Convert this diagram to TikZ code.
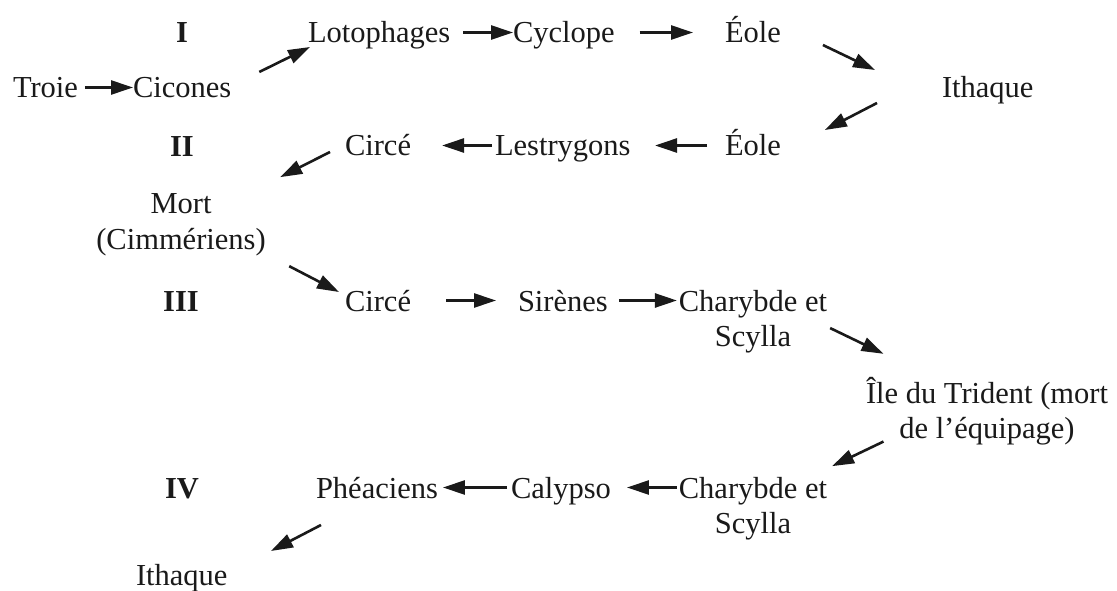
\documentclass[tikz,border=0pt]{standalone}
\usepackage{fontspec}
\setmainfont{Liberation Serif}
\usetikzlibrary{arrows.meta}
\definecolor{ink}{HTML}{1A1A1A}
\begin{document}
\begin{tikzpicture}[x=1pt,y=-1pt,
  every node/.style={inner sep=0pt,outer sep=0pt,text=ink,font=\fontsize{30.5}{35.5}\selectfont},
  place/.style={text height=21pt,text depth=0pt},
  numeral/.style={place,anchor=base,font=\fontsize{30.5}{35.5}\selectfont\bfseries},
  multi/.style={anchor=base},
  arr/.style={draw=ink,line width=2.6pt,-{Triangle[length=22pt,width=14pt]}}]
\useasboundingbox[fill=white] (0,0) rectangle (1117,591);
% row I
\node[numeral] (n1) at (182,43) {I};
\node[place,anchor=base west] (loto) at (308,43) {Lotophages};
\node[place,anchor=base west] (cyclope) at (513,43) {Cyclope};
\node[place,anchor=base west] (eole1) at (725,43) {Éole};
\node[place,anchor=base west] (troie) at (13,98) {Troie};
\node[place,anchor=base west] (cicones) at (133,98) {Cicones};
\node[place,anchor=base west] (ithaque1) at (942,98) {Ithaque};
% row II
\node[numeral] (n2) at (182,157) {II};
\node[place,anchor=base west] (circe2) at (345,156) {Circé};
\node[place,anchor=base west] (lestry) at (495,156) {Lestrygons};
\node[place,anchor=base west] (eole2) at (725,156) {Éole};
\node[multi] (mort) at (181,214) {\begin{tabular}[t]{@{}c@{}}Mort\\(Cimmériens)\end{tabular}};
% row III
\node[numeral] (n3) at (181,311) {III};
\node[place,anchor=base west] (circe3) at (345,311) {Circé};
\node[place,anchor=base west] (sirenes) at (518,311) {Sirènes};
\node[multi] (charyb3) at (753,311) {\begin{tabular}[t]{@{}c@{}}Charybde et\\Scylla\end{tabular}};
\node[multi] (ile) at (987,403) {\begin{tabular}[t]{@{}c@{}}Île du Trident (mort\\de l’équipage)\end{tabular}};
% row IV
\node[numeral] (n4) at (182,498) {IV};
\node[place,anchor=base west] (pheac) at (316,498) {Phéaciens};
\node[place,anchor=base west] (calypso) at (511,498) {Calypso};
\node[multi] (charyb4) at (753,498) {\begin{tabular}[t]{@{}c@{}}Charybde et\\Scylla\end{tabular}};
\node[place,anchor=base west] (ithaque2) at (136,585) {Ithaque};
% connectors
\draw[arr] ([xshift=7pt]troie.east) -- (cicones.west);
\draw[arr] ([shift={(28,-5)}]cicones.north east) -- ([shift={(2,4)}]loto.south west);
\draw[arr] ([xshift=13pt]loto.east) -- (cyclope.west);
\draw[arr,shorten <=25pt,shorten >=32pt] (cyclope.east) -- (eole1.west);
\draw[arr] ([shift={(42,2)}]eole1.south east) -- ([shift={(-67,-17.5)}]ithaque1.west);
\draw[arr] ([shift={(-65,5)}]ithaque1.south west) -- ([shift={(44,-5)}]eole2.north east);
\draw[arr,shorten <=18pt,shorten >=24.5pt] (eole2.west) -- (lestry.east);
\draw[arr,shorten <=3pt,shorten >=31pt] (lestry.west) -- (circe2.east);
\draw[arr] ([shift={(-15,-4)}]circe2.south west) -- ([shift={(14.5,-12)}]mort.north east);
\draw[arr] ([shift={(23.5,6)}]mort.south east) -- ([shift={(-6,2)}]circe3.north west);
\draw[arr,shorten <=35pt,shorten >=22pt] (circe3.east) -- (sirenes.west);
\draw[arr] ([xshift=11pt]sirenes.east) -- ([shift={(-2,-10.5)}]charyb3.base west);
\draw[arr] ([shift={(3,6.4)}]charyb3.east) -- ([shift={(17.5,-23)}]ile.north west);
\draw[arr] ([shift={(17.5,-7.6)}]ile.south west) -- ([shift={(5,-7)}]charyb4.north east);
\draw[arr] ([shift={(-2,-10.5)}]charyb4.base west) -- ([xshift=16pt]calypso.east);
\draw[arr,shorten <=4pt,shorten >=5pt] (calypso.west) -- (pheac.east);
\draw[arr] ([shift={(5,27)}]pheac.south west) -- ([shift={(43.5,-13)}]ithaque2.north east);
\end{tikzpicture}
\end{document}
